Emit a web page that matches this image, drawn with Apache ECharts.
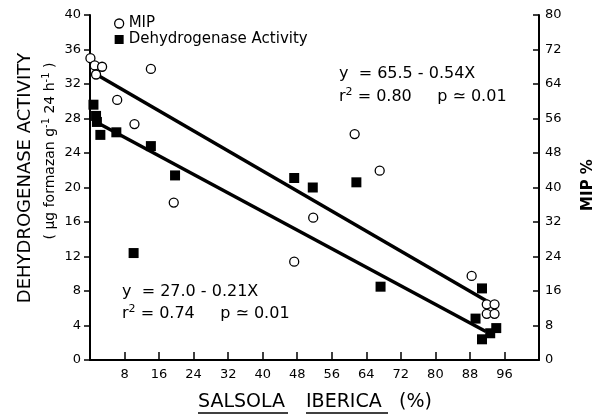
<!DOCTYPE html>
<html>
<head>
<meta charset="utf-8">
<script src="https://cdn.jsdelivr.net/npm/echarts@6/dist/echarts.min.js"></script>
<style>
  html, body { margin: 0; padding: 0; background: #fff; }
  #main { width: 604px; height: 416px; }
</style>
</head>
<body>
<div id="main"></div>
<script>
// Salsola iberica cover (%) vs dehydrogenase activity and MIP %
let dhX = [0.8, 1.4, 1.6, 2.4, 6.1, 14.1, 19.7, 10.1, 47.3, 51.6, 61.7, 67.3, 90.8, 89.3, 90.8, 92.7, 94.1]
let dhY = [29.6, 28.3, 27.6, 26.1, 26.4, 24.8, 21.4, 12.4, 21.1, 20.0, 20.6, 8.5, 8.3, 4.8, 2.4, 3.1, 3.7]

let mipX = [0.1, 1.1, 2.8, 1.4, 6.3, 10.3, 14.1, 19.4, 61.3, 67.1, 51.7, 47.3, 88.4, 91.9, 93.7, 91.9, 93.7]
let mipY = [70.0, 68.3, 68.0, 66.2, 60.3, 54.7, 67.5, 36.5, 52.4, 43.9, 33.0, 22.8, 19.5, 12.9, 12.9, 10.7, 10.7]

// regression line end points
let dhLineX = [1.4, 91.7]
let dhLineY = [27.6, 3.3]
let mipLineX = [1.3, 92.9]
let mipLineY = [66.3, 13.1]

let xTicks = [8, 16, 24, 32, 40, 48, 56, 64, 72, 80, 88, 96]

const font = 'DejaVu Sans'
const pairs = (xs, ys) => xs.map((x, i) => [x, ys[i]])

const supRich = {
    b: { fontSize: 16, fontFamily: font, color: '#000' },
    s: { fontSize: 11, fontFamily: font, color: '#000', padding: [0, 0, 8, 0] }
}

let chart = echarts.init(document.getElementById('main'))

let option = {
    animation: false,
    textStyle: { fontFamily: font, color: '#000' },
    grid: { left: 90, right: 65, top: 15, bottom: 56 },
    legend: {
        orient: 'vertical',
        left: 109,
        top: 11,
        itemGap: 1,
        itemWidth: 9,
        itemHeight: 9,
        itemTextGap: 14,
        textStyle: { fontFamily: font, fontSize: 15, color: '#000' },
        data: [
            { name: 'MIP', icon: 'circle', itemStyle: { color: '#fff', borderColor: '#000', borderWidth: 1.3 } },
            { name: 'Dehydrogenase Activity', icon: 'rect', itemStyle: { color: '#000' } }
        ]
    },
    xAxis: {
        type: 'value',
        min: 0,
        max: 104,
        interval: 8,
        axisLine: { lineStyle: { color: '#000', width: 2 } },
        axisTick: { inside: true, length: 8, lineStyle: { color: '#000', width: 1.5 } },
        splitLine: { show: false },
        axisLabel: {
            fontSize: 13, color: '#000', margin: 8,
            formatter: v => xTicks.indexOf(v) >= 0 ? String(v) : ''
        }
    },
    yAxis: [
        {
            type: 'value',
            min: 0, max: 40, interval: 4,
            axisLine: { show: true, lineStyle: { color: '#000', width: 2 } },
            axisTick: { show: true, length: 6, lineStyle: { color: '#000', width: 1.5 } },
            splitLine: { show: false },
            axisLabel: { fontSize: 13, color: '#000', margin: 9 }
        },
        {
            type: 'value',
            position: 'right',
            min: 0, max: 80, interval: 8,
            axisLine: { show: true, lineStyle: { color: '#000', width: 2 } },
            axisTick: { show: true, inside: true, length: 6, lineStyle: { color: '#000', width: 1.5 } },
            splitLine: { show: false },
            axisLabel: { fontSize: 13, color: '#000', margin: 6 }
        }
    ],
    series: [
        {
            name: 'MIP line',
            type: 'line',
            yAxisIndex: 1,
            data: pairs(mipLineX, mipLineY),
            symbol: 'none',
            lineStyle: { color: '#000', width: 3.5 },
            silent: true
        },
        {
            name: 'DH line',
            type: 'line',
            data: pairs(dhLineX, dhLineY),
            symbol: 'none',
            lineStyle: { color: '#000', width: 3.5 },
            silent: true
        },
        {
            name: 'MIP',
            type: 'scatter',
            yAxisIndex: 1,
            data: pairs(mipX, mipY),
            symbol: 'circle',
            symbolSize: 9,
            itemStyle: { color: '#fff', borderColor: '#000', borderWidth: 1.3, opacity: 1 },
            z: 3
        },
        {
            name: 'Dehydrogenase Activity',
            type: 'scatter',
            data: pairs(dhX, dhY),
            symbol: 'rect',
            symbolSize: 10,
            itemStyle: { color: '#000', opacity: 1 },
            z: 4
        }
    ],
    graphic: [
        {
            type: 'text', left: 339, top: 66,
            style: { text: 'y  = 65.5 - 0.54X', font: '16px "DejaVu Sans"', fill: '#000' }
        },
        {
            type: 'text', left: 339, top: 87,
            style: { text: '{b|r}{s|2}{b| = 0.80     p ≃ 0.01}', rich: supRich }
        },
        {
            type: 'text', left: 122, top: 284,
            style: { text: 'y  = 27.0 - 0.21X', font: '16px "DejaVu Sans"', fill: '#000' }
        },
        {
            type: 'text', left: 122, top: 304,
            style: { text: '{b|r}{s|2}{b| = 0.74     p ≃ 0.01}', rich: supRich }
        },
        {
            type: 'text', x: 25, y: 178, rotation: Math.PI / 2,
            style: {
                text: 'DEHYDROGENASE ACTIVITY', font: '18px "DejaVu Sans"', fill: '#000',
                align: 'center', verticalAlign: 'middle'
            }
        },
        {
            type: 'text', x: 50, y: 151, rotation: Math.PI / 2,
            style: {
                text: '{b|( μg formazan g}{s|-1}{b| 24 h}{s|-1}{b| )}', align: 'center', verticalAlign: 'middle',
                rich: {
                    b: { fontSize: 14, fontFamily: font, color: '#000' },
                    s: { fontSize: 10, fontFamily: font, color: '#000', padding: [0, 0, 8, 0] }
                }
            }
        },
        {
            type: 'text', x: 588, y: 185, rotation: Math.PI / 2,
            style: {
                text: 'MIP %', font: 'bold 15px "DejaVu Sans"', fill: '#000',
                align: 'center', verticalAlign: 'middle'
            }
        },
        {
            type: 'text', left: 198, top: 393,
            style: { text: 'SALSOLA', font: '19px "DejaVu Sans"', fill: '#000' }
        },
        {
            type: 'text', left: 306, top: 393,
            style: { text: 'IBERICA', font: '19px "DejaVu Sans"', fill: '#000' }
        },
        {
            type: 'text', left: 399, top: 393,
            style: { text: '(%)', font: '19px "DejaVu Sans"', fill: '#000' }
        },
        { type: 'line', shape: { x1: 198, y1: 413, x2: 288, y2: 413 }, style: { stroke: '#000', lineWidth: 1.5 } },
        { type: 'line', shape: { x1: 306, y1: 413, x2: 388, y2: 413 }, style: { stroke: '#000', lineWidth: 1.5 } }
    ]
}

chart.setOption(option)
</script>
</body>
</html>
